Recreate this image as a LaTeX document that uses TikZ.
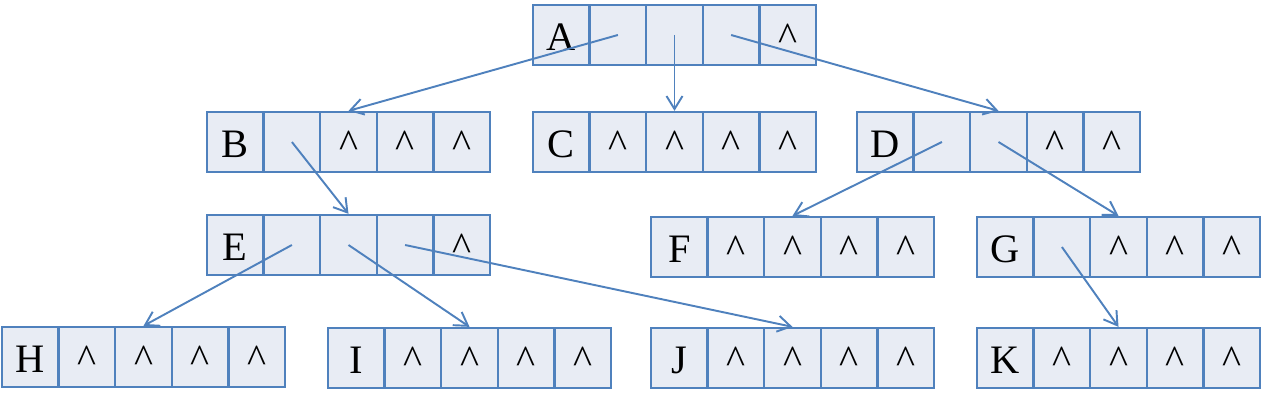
\documentclass[tikz,border=0pt]{standalone}
\usepackage{fontspec}
\setmainfont{Liberation Serif}
\usetikzlibrary{arrows.meta}
\definecolor{linecolor}{HTML}{4F81BD}
\definecolor{cellcolor}{HTML}{E8ECF4}
\newcommand{\nul}{\textasciicircum}

\begin{document}
\begin{tikzpicture}[x=0.02cm,y=-0.02cm,
  cell/.style={draw=linecolor,fill=cellcolor,line width=1.3pt,minimum width=1.132cm,minimum height=1.2cm,inner sep=0pt,text height=18pt,text depth=0pt,font=\fontsize{23}{27}\selectfont},
  ptr/.style={draw=linecolor,line width=1.1pt,-{Straight Barb[length=0.26cm,width=0.32cm]}}]
\useasboundingbox (0,0) rectangle (1264,405);
% records: name / left / top / number of pointer fields
\foreach \nm/\x/\y/\p in {A/533/5/3, B/207/112/1, C/533/112/0, D/857/112/2,
    E/207/215/3, F/651/217/0, G/977/217/1,
    H/2/327/0, I/328/328/0, J/651/328/0, K/977/328/0}
{
  \node[cell] (\nm0) at ({\x+28.3},{\y+30}) {\nm};
  \foreach \i in {1,...,4}
    \node[cell] (\nm\i) at ({\x+28.3+56.6*\i},{\y+30}) {\ifnum\i>\p \nul\fi};
}
% links
\draw[ptr] (A1.center) -- (B2.north);
\draw[ptr] (A2.center) -- (C2.north);
\draw[ptr] (A3.center) -- (D2.north);
\draw[ptr] (B1.center) -- (E2.north);
\draw[ptr] (D1.center) -- (F2.north);
\draw[ptr] (D2.center) -- (G2.north);
\draw[ptr] (E1.center) -- (H2.north);
\draw[ptr] (E2.center) -- (I2.north);
\draw[ptr] (E3.center) -- (J2.north);
\draw[ptr] (G1.center) -- (K2.north);
\end{tikzpicture}
\end{document}
